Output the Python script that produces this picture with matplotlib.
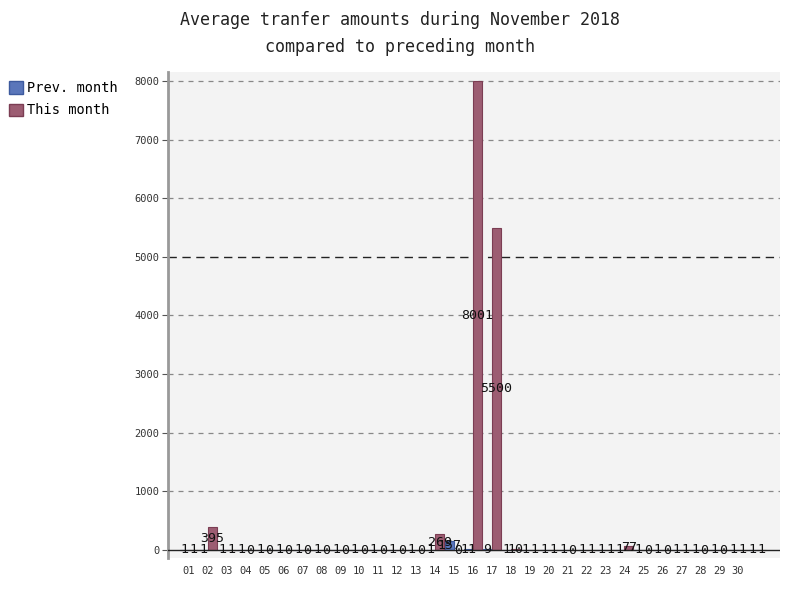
#!/usr/bin/env python

import numpy as np
import matplotlib
matplotlib.use('Agg')
import matplotlib.pyplot as plt
from matplotlib.patches import Patch

# days of the month (31 slots, only 01..30 labelled)
day_labels = ['%02d' % d for d in range(1, 31)] + ['']

# average transfer amounts
prev_month = [1, 1, 1, 1, 1, 1, 1, 1, 1, 1, 1, 1, 1, 1, 157, 11, 9,
              1, 1, 1, 1, 1, 1, 1, 1, 1, 1, 1, 1, 1, 1]
this_month = [1, 395, 1, 0, 0, 0, 0, 0, 0, 0, 0, 0, 0, 269, 0, 8001, 5500,
              10, 1, 1, 0, 1, 1, 77, 0, 0, 1, 0, 0, 1, 1]

threshold = 5000

blue = '#5a76ba'
blue_edge = '#3d5a9e'
red = '#9c5d72'
red_edge = '#7b3d53'
mono = 'DejaVu Sans Mono'

fig = plt.figure(figsize=(8, 6), dpi=100)
ax = fig.add_axes([0.21, 0.07, 0.765, 0.81])
ax.set_facecolor('#f3f3f3')

x = np.arange(len(day_labels))
w = 0.475

ax.bar(x - w / 2, prev_month, width=w, color=blue, edgecolor=blue_edge, linewidth=0.8, zorder=3)
ax.bar(x + w / 2, this_month, width=w, color=red, edgecolor=red_edge, linewidth=0.8, zorder=3)

# value labels in the middle of each bar
for xi, v in zip(x, prev_month):
    ax.text(xi - w / 2, v / 2, str(v), ha='center', va='center', fontsize=9.5,
            family=mono, color='#111111', zorder=5)
for xi, v in zip(x, this_month):
    ax.text(xi + w / 2, v / 2, str(v), ha='center', va='center', fontsize=9.5,
            family=mono, color='#111111', zorder=5)

# horizontal grid and threshold
for yv in range(1000, 9000, 1000):
    if yv == threshold:
        continue
    ax.axhline(yv, color='#888888', linestyle=(0, (4, 4)), linewidth=0.9, zorder=1)
ax.axhline(threshold, color='#222222', linestyle=(0, (6, 4)), linewidth=1.0, zorder=2)
ax.axhline(0, color='#222222', linewidth=1.0, zorder=4)

ax.set_xlim(-1.11, 31.22)
ax.set_ylim(-136, 8153)

ax.set_xticks(x)
ax.set_xticklabels(day_labels, family=mono, fontsize=7.5, color='#333333')
ax.set_yticks(range(0, 9000, 1000))
ax.set_yticklabels([str(v) for v in range(0, 9000, 1000)], family=mono, fontsize=7.5, color='#333333')
ax.tick_params(axis='x', length=0, pad=6)
ax.tick_params(axis='y', length=4, color='#555555', pad=2)

for s in ['top', 'right', 'bottom']:
    ax.spines[s].set_visible(False)
ax.spines['left'].set_color('#999999')
ax.spines['left'].set_linewidth(2)

fig.text(0.5, 0.966, 'Average tranfer amounts during November 2018', ha='center', va='center',
         family=mono, fontsize=12, color='#222222')
fig.text(0.5, 0.922, 'compared to preceding month', ha='center', va='center',
         family=mono, fontsize=12, color='#222222')

handles = [Patch(facecolor=blue, edgecolor=blue_edge), Patch(facecolor=red, edgecolor=red_edge)]
fig.legend(handles, ['Prev. month', 'This month'], loc='upper left', bbox_to_anchor=(-0.004, 0.885),
           frameon=False, handlelength=1.0, handleheight=1.0, handletextpad=0.35,
           labelspacing=0.6, prop={'family': mono, 'size': 9.8})

fig.savefig('out.png', dpi=100)
